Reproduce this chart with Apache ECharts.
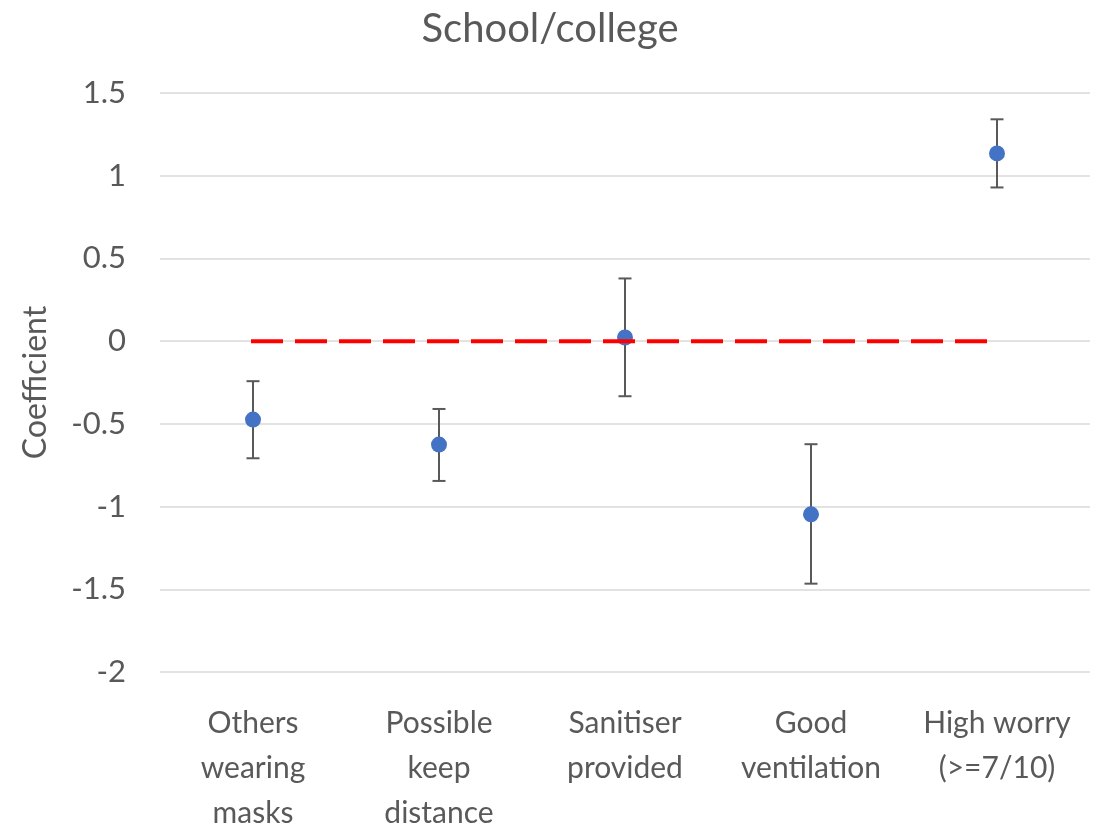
<!DOCTYPE html>
<html>
<head>
<meta charset="utf-8">
<script src="https://cdn.jsdelivr.net/npm/echarts@6/dist/echarts.min.js"></script>
<style>
  html, body { margin: 0; padding: 0; background: #fff; }
  #chart { width: 1100px; height: 828px; }
</style>
</head>
<body>
<div id="chart"></div>
<script>
// Regression coefficients with confidence intervals, school/college setting
const categories = [
  'Others\nwearing\nmasks',
  'Possible\nkeep\ndistance',
  'Sanitiser\nprovided',
  'Good\nventilation',
  'High worry\n(>=7/10)'
];
const coefficients = [-0.474, -0.625, 0.022, -1.047, 1.135];
const lowerBounds  = [-0.708, -0.845, -0.333, -1.466, 0.929];
const upperBounds  = [-0.242, -0.410, 0.379, -0.623, 1.341];
const referenceLine = [0, 0, 0, 0, 0];

const textColor = '#595959';
const fontFamily = 'Lato, "Open Sans", sans-serif';

const chart = echarts.init(document.getElementById('chart'), null, { renderer: 'canvas' });

const errorData = categories.map((c, i) => [i, lowerBounds[i], upperBounds[i]]);

chart.setOption({
  animation: false,
  backgroundColor: '#ffffff',
  title: {
    text: 'School/college',
    left: 'center',
    top: 4,
    textStyle: { color: textColor, fontFamily, fontWeight: 'normal', fontSize: 40 }
  },
  grid: {
    left: 160, right: 10, top: 93, bottom: 156,
    containLabel: false, outerBoundsMode: 'none'
  },
  xAxis: {
    type: 'category',
    data: categories,
    axisLine: { show: false },
    axisTick: { show: false },
    axisLabel: {
      color: textColor, fontFamily, fontSize: 30, lineHeight: 45,
      margin: 29, interval: 0
    },
    splitLine: { show: false }
  },
  yAxis: {
    type: 'value',
    min: -2,
    max: 1.5,
    interval: 0.5,
    name: 'Coefficient',
    nameLocation: 'middle',
    nameGap: 108,
    nameTextStyle: { color: textColor, fontFamily, fontSize: 32 },
    axisLine: { show: false },
    axisTick: { show: false },
    axisLabel: { color: textColor, fontFamily, fontSize: 31, margin: 34 },
    splitLine: { lineStyle: { color: '#d9d9d9', width: 1.5 } }
  },
  series: [
    {
      type: 'custom',
      name: 'CI',
      z: 2,
      data: errorData,
      encode: { x: 0, y: [1, 2] },
      renderItem: function (params, api) {
        const x = api.value(0);
        const lo = api.coord([x, api.value(1)]);
        const hi = api.coord([x, api.value(2)]);
        const half = 6.5;
        const style = { stroke: '#595959', lineWidth: 2 };
        return {
          type: 'group',
          children: [
            { type: 'line', shape: { x1: lo[0], y1: lo[1], x2: hi[0], y2: hi[1] }, style },
            { type: 'line', shape: { x1: lo[0] - half, y1: lo[1], x2: lo[0] + half, y2: lo[1] }, style },
            { type: 'line', shape: { x1: hi[0] - half, y1: hi[1], x2: hi[0] + half, y2: hi[1] }, style }
          ]
        };
      }
    },
    {
      type: 'scatter',
      name: 'Coefficient',
      z: 3,
      data: coefficients,
      symbol: 'circle',
      symbolSize: 16,
      itemStyle: { color: '#4472C4', opacity: 1 }
    },
    {
      type: 'line',
      name: 'Zero',
      z: 4,
      data: referenceLine,
      symbol: 'none',
      lineStyle: { color: '#ff0000', width: 4, type: [28, 16], cap: 'square' }
    }
  ]
});
</script>
</body>
</html>
